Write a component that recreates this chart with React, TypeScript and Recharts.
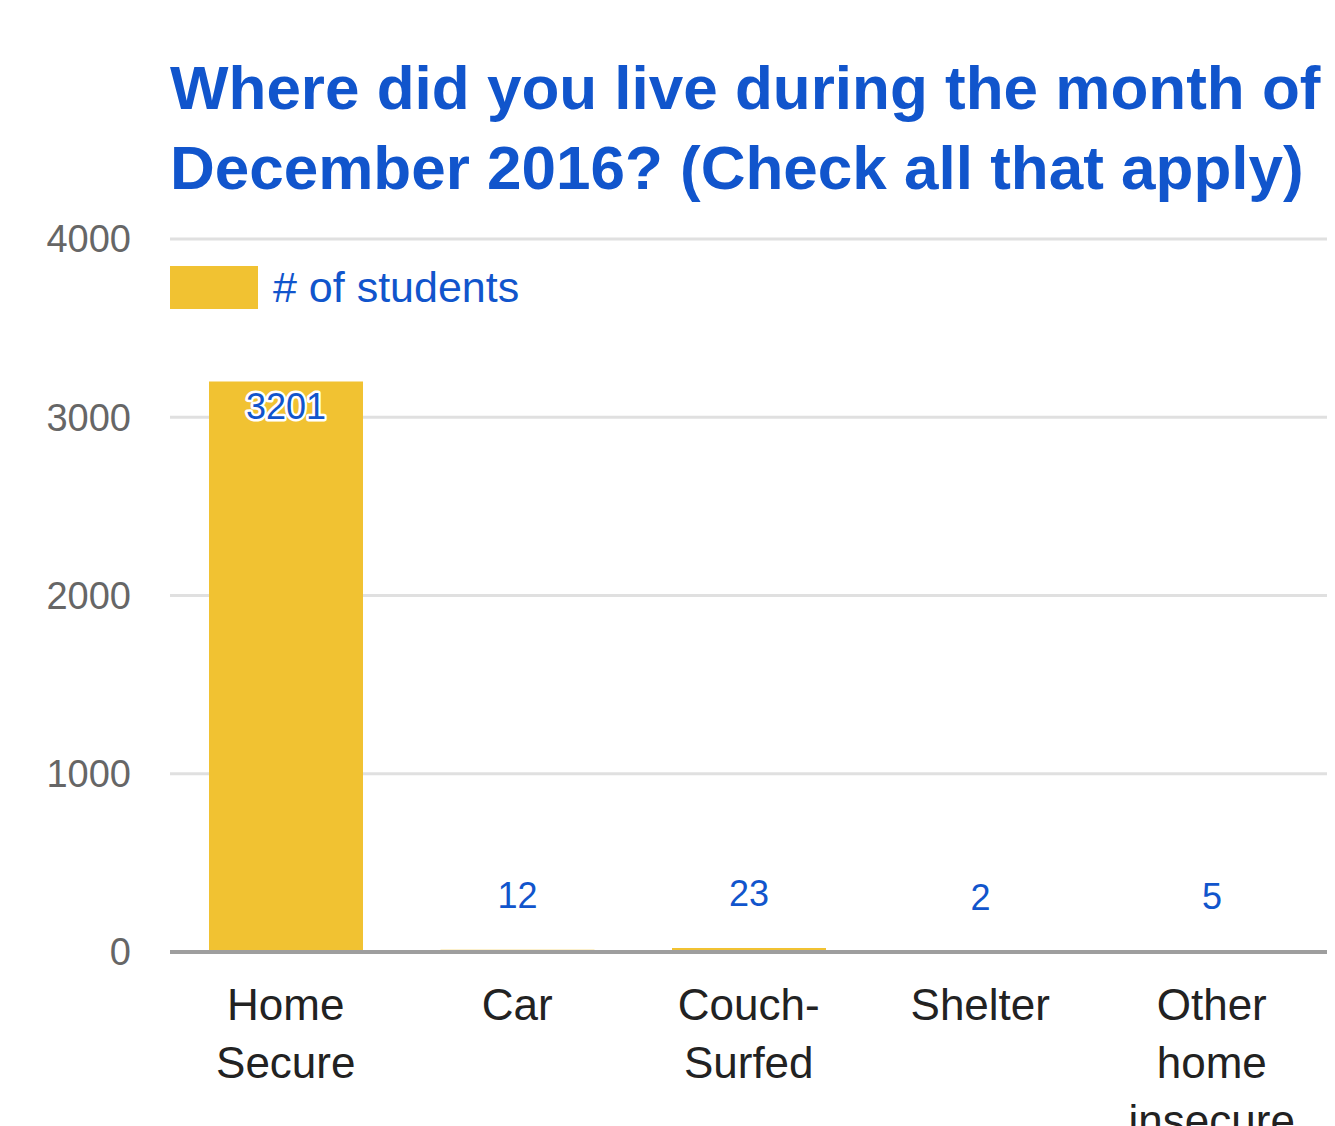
import React from "react";
import { BarChart, Bar, XAxis, YAxis, CartesianGrid, LabelList } from "recharts";

const categories = ["Home Secure", "Car", "Couch-Surfed", "Shelter", "Other home insecure"];
const studentCounts = [3201, 12, 23, 2, 5];
const yTicks = [0, 1000, 2000, 3000, 4000];
const seriesName = "# of students";
const titleLines = ["Where did you live during the month of", "December 2016? (Check all that apply)"];

const data = categories.map((c, i) => ({ category: c, students: studentCounts[i] }));

const FONT = '"Liberation Sans", Arial, Helvetica, sans-serif';
const BLUE = "#1155cc";
const YELLOW = "#f1c232";

const splitLabel = (s: string): string[] => {
  const out: string[] = [];
  s.split(" ").forEach((w) => {
    const idx = w.indexOf("-");
    if (idx > 0 && idx < w.length - 1) {
      out.push(w.slice(0, idx + 1));
      out.push(w.slice(idx + 1));
    } else out.push(w);
  });
  return out;
};

const CategoryTick = (props: any) => {
  const { x, y, payload } = props;
  const lines = splitLabel(String(payload.value));
  return (
    <text x={x} y={y} textAnchor="middle" fill="#222222" fontSize={44} fontFamily={FONT}>
      {lines.map((l, i) => (
        <tspan key={i} x={x} y={y + 60 + i * 58}>
          {l}
        </tspan>
      ))}
    </text>
  );
};

const BarValueLabel = (props: any) => {
  const { x, y, width, value } = props;
  const cx = x + width / 2;
  const inside = value > 1000;
  return (
    <text
      x={cx}
      y={inside ? y + 38 : y - 42}
      textAnchor="middle"
      fill={BLUE}
      fontSize={36}
      fontFamily={FONT}
      stroke={inside ? "#ffffff" : "none"}
      strokeWidth={inside ? 5 : 0}
      strokeLinejoin="round"
      paintOrder="stroke"
    >
      {value}
    </text>
  );
};

export default function App() {
  return (
    <div style={{ position: "relative", width: 1327, height: 1118, overflow: "hidden", background: "#fff" }}>
      <div
        style={{
          position: "absolute",
          left: 162,
          top: 40,
          fontFamily: FONT,
          fontWeight: "bold",
          fontSize: 62,
          lineHeight: "80px",
          color: BLUE,
          whiteSpace: "nowrap",
          zIndex: 2,
        }}
      >
        {titleLines[0]}
        <br />
        {titleLines[1]}
      </div>
      <div
        style={{
          position: "absolute",
          left: 162,
          top: 258,
          display: "flex",
          alignItems: "center",
          fontFamily: FONT,
          zIndex: 2,
        }}
      >
        <div style={{ width: 88, height: 43, background: YELLOW }} />
        <span style={{ marginLeft: 15, fontSize: 43, lineHeight: "43px", color: BLUE, whiteSpace: "nowrap" }}>
          {seriesName}
        </span>
      </div>
      <BarChart
        width={1327}
        height={1118}
        data={data}
        margin={{ top: 231, right: 7.5, bottom: 4, left: 0 }}
      >
        <CartesianGrid horizontal vertical={false} stroke="#e0e0e0" strokeWidth={3} />
        <YAxis
          width={162}
          domain={[0, 4000]}
          ticks={yTicks}
          axisLine={false}
          tickLine={false}
          tickMargin={33}
          tick={{ fill: "#666666", fontSize: 38, fontFamily: FONT }}
        />
        <Bar dataKey="students" name={seriesName} fill={YELLOW} barSize={154} isAnimationActive={false}>
          <LabelList dataKey="students" content={<BarValueLabel />} />
        </Bar>
        <XAxis
          dataKey="category"
          height={170}
          interval={0}
          axisLine={{ stroke: "#9e9e9e", strokeWidth: 4 }}
          tickLine={false}
          tick={<CategoryTick />}
        />
      </BarChart>
    </div>
  );
}
